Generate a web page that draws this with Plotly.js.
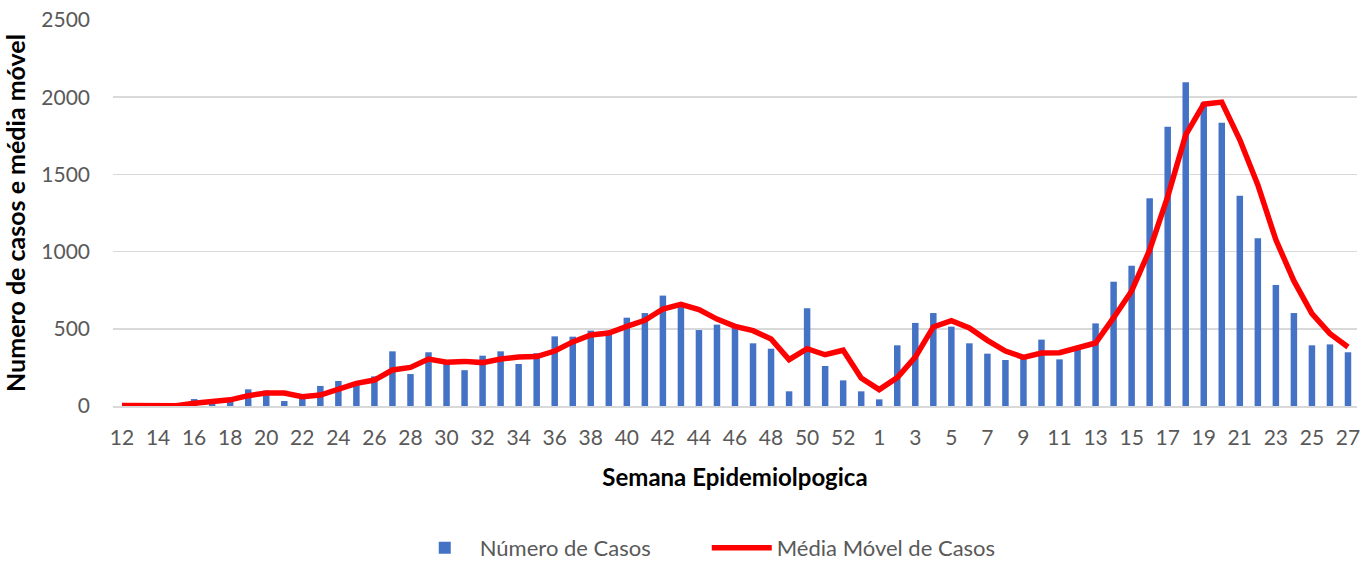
<!DOCTYPE html>
<html>
<head>
<meta charset="utf-8">
<script src="https://cdn.plot.ly/plotly-3.0.1.min.js"></script>
<style>html,body{margin:0;padding:0;background:#fff;}#chart{width:1372px;height:565px;}</style>
</head>
<body>
<div id="chart"></div>
<script>
var semanas = [12,13,14,15,16,17,18,19,20,21,22,23,24,25,26,27,28,29,30,31,32,33,34,35,36,37,38,39,40,41,42,43,44,45,46,47,48,49,50,51,52,53,
  1,2,3,4,5,6,7,8,9,10,11,12,13,14,15,16,17,18,19,20,21,22,23,24,25,26,27];
var casos = [0,0,0,0,45,30,40,108,100,32,52,130,162,149,192,354,207,348,290,232,326,354,272,342,451,449,488,488,572,602,715,660,492,527,528,406,371,95,633,259,166,95,
  43,393,538,602,514,406,339,298,305,430,302,385,535,805,909,1346,1808,2097,1965,1834,1361,1086,784,602,393,399,348];
var mediaMovel = [3,1,1,2,18,30,40,67,84,84,60,71,110,147,168,233,250,304,283,289,281,304,317,320,356,415,460,473,516,555,628,658,624,563,516,488,434,300,371,332,361,181,
  106,184,317,512,553,505,425,356,315,343,345,374,408,572,745,1011,1356,1756,1955,1968,1724,1432,1076,810,598,469,382];
var nomeBarras = "Número de Casos";
var nomeLinha = "Média Móvel de Casos";
var tituloX = "Semana Epidemiolpogica";
var tituloY = "Numero de casos e média móvel";

var idx = semanas.map(function(_, i){ return i; });
var tickVals = idx.filter(function(i){ return i % 2 === 0; });
var tickText = tickVals.map(function(i){ return String(semanas[i]); });

var FONT = "Lato, 'Open Sans', sans-serif";
var traces = [
  {type:'bar', x: idx, y: casos, name: nomeBarras, marker:{color:'#4472C4'}, hoverinfo:'y'},
  {type:'scatter', mode:'lines', x: idx, y: mediaMovel, name: nomeLinha, line:{color:'#FF0000', width:5.5, shape:'linear'}}
];
var layout = {
  width:1372, height:565,
  margin:{l:113, r:15, t:20, b:159},
  paper_bgcolor:'#fff', plot_bgcolor:'#fff',
  font:{family:FONT, color:'#595959', size:21},
  bargap:0.64,
  showlegend:true,
  legend:{orientation:'h', x:0.4773, xanchor:'center', yref:'container', y:0.03, yanchor:'middle',
          font:{family:FONT, size:22, color:'#595959'}, traceorder:'normal', itemwidth:60,
          entrywidth:222, entrywidthmode:'pixels'},
  xaxis:{range:[-0.5, 68.5], tickmode:'array', tickvals:tickVals, ticktext:tickText,
         showgrid:false, zeroline:false, showline:true, linecolor:'#D9D9D9', linewidth:1.5,
         ticks:'', ticklabelstandoff:12, tickfont:{family:FONT, size:21, color:'#595959'},
         title:{text:tituloX, font:{family:FONT, size:24, color:'#000', weight:'bold'}, standoff:21}},
  yaxis:{range:[0,2500], dtick:500, showgrid:true, gridcolor:'#D9D9D9', gridwidth:1.5, zeroline:false,
         ticks:'', ticklabelstandoff:22, tickfont:{family:FONT, size:21, color:'#595959'},
         title:{text:tituloY, font:{family:FONT, size:25, color:'#000', weight:'bold'}, standoff:8}}
};
Plotly.newPlot('chart', traces, layout, {displayModeBar:false, staticPlot:true});
</script>
</body>
</html>
